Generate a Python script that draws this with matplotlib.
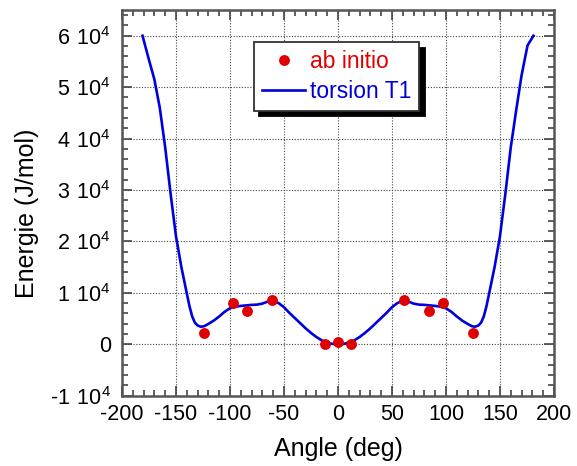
import matplotlib
matplotlib.use("Agg")
import matplotlib.pyplot as plt
from matplotlib.ticker import MultipleLocator, FixedLocator

plt.rcParams['font.family'] = ['Liberation Sans', 'DejaVu Sans']
plt.rcParams['mathtext.default'] = 'regular'

# ab initio points
abinitio_angle = [-124.5, -97, -84.5, -61.4, -12, 0, 12, 61.4, 84.5, 97, 124.7]
abinitio_energy = [2100, 8100, 6500, 8600, 0, 500, 0, 8600, 6500, 8100, 2100]

# torsion T1 curve
curve_angle = [-181, -175, -170, -165, -160, -155, -150, -145, -140, -137.5, -135, -132.5,
               -130, -127, -124, -120, -115, -110, -105, -100, -95, -90, -85, -80, -75, -70,
               -65, -60, -55, -50, -45, -40, -35, -30, -25, -20, -15, -10, -5, 0,
               5, 10, 15, 20, 25, 30, 35, 40, 45, 50, 55, 60, 65, 70, 75, 80, 85,
               90, 95, 100, 105, 110, 115, 120, 124, 127, 130, 132.5, 135, 137.5, 140,
               145, 150, 155, 160, 165, 170, 175.5, 181]
curve_energy = [60000, 55300, 51500, 46000, 38300, 29300, 21000, 15000, 9900, 7400, 5400, 4200,
                3650, 3400, 3500, 3950, 4600, 5400, 6300, 7000, 7300, 7450, 7550, 7650, 7700, 7900,
                8300, 8450, 8000, 7200, 6100, 5100, 4100, 3100, 2200, 1400, 750, 300, 60, 0,
                60, 300, 750, 1400, 2200, 3100, 4100, 5100, 6100, 7200, 8000, 8450, 8300, 7900, 7700, 7650, 7550,
                7450, 7300, 7000, 6300, 5400, 4600, 3950, 3500, 3400, 3650, 4200, 5400, 7400, 9900,
                15000, 21000, 29300, 38300, 45500, 52300, 58100, 60000]

x_ticks = [-200, -150, -100, -50, 0, 50, 100, 150, 200]
y_ticks = [-10000, 0, 10000, 20000, 30000, 40000, 50000, 60000]
y_tick_labels = ['-1 \u200a10$^{4}$', '0', '1 \u200a10$^{4}$', '2 \u200a10$^{4}$', '3 \u200a10$^{4}$',
                 '4 \u200a10$^{4}$', '5 \u200a10$^{4}$', '6 \u200a10$^{4}$']

fig = plt.figure(figsize=(5.77, 4.66), dpi=100)
ax = fig.add_axes([0.2114, 0.151, 0.7487, 0.8275])

ax.plot(curve_angle, curve_energy, color='#0000dd', lw=1.9, label='torsion T1', zorder=3)
ax.plot(abinitio_angle, abinitio_energy, 'o', color='#e00000', ms=6.8, mec='#e00000',
        label='ab initio', zorder=4, linestyle='none')

ax.set_xlim(-200, 200)
ax.set_ylim(-10000, 65000)
ax.xaxis.set_major_locator(FixedLocator(x_ticks))
ax.xaxis.set_minor_locator(MultipleLocator(10))
ax.yaxis.set_major_locator(FixedLocator(y_ticks))
ax.yaxis.set_minor_locator(MultipleLocator(2000))
ax.set_xticklabels([str(t) for t in x_ticks])
ax.set_yticklabels(y_tick_labels)

ax.tick_params(which='both', direction='in', top=True, right=True, color='#444444', width=1.2)
ax.tick_params(which='major', length=7, labelsize=15.5)
ax.tick_params(axis='x', which='major', pad=6)
ax.tick_params(axis='y', which='major', pad=8)
ax.tick_params(which='minor', length=4)
for s in ax.spines.values():
    s.set_color('#555555')
    s.set_linewidth(1.8)

ax.grid(True, which='major', color='#444444', linestyle=(0, (1, 1.5)), lw=0.8)
ax.set_axisbelow(True)

ax.set_xlabel('Angle (deg)', fontsize=18, labelpad=9)
ax.set_ylabel('Energie (J/mol)', fontsize=18, labelpad=8)
ax.yaxis.label.set_y(0.474)

handles, labels = ax.get_legend_handles_labels()
leg = ax.legend(handles[::-1], labels[::-1], loc='upper left', bbox_to_anchor=(0.305, 0.917),
                fontsize=16.5, frameon=True, fancybox=False,
                shadow={'color': 'black', 'alpha': 1, 'ox': 4, 'oy': -4},
                labelcolor='linecolor', handlelength=1.9, handletextpad=0.2, borderpad=0.35,
                labelspacing=0.3, borderaxespad=0)
leg.get_frame().set_edgecolor('#333333')
leg.get_frame().set_linewidth(1.3)
leg.get_frame().set_alpha(1)

fig.savefig('out.png', dpi=100)
